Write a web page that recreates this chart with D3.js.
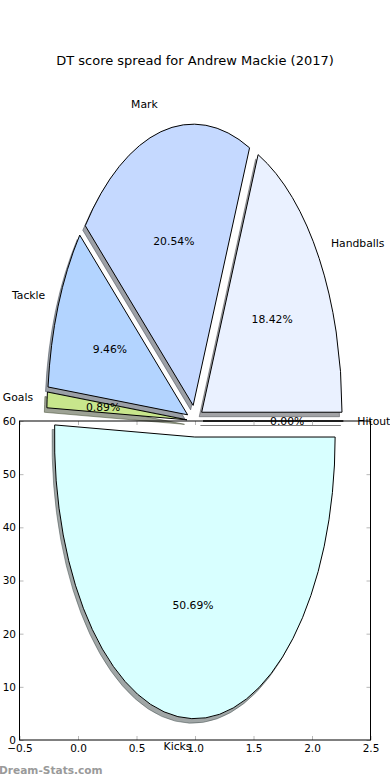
<!DOCTYPE html>
<html>
<head>
<meta charset="utf-8">
<script src="https://cdn.jsdelivr.net/npm/d3@7"></script>
<style>
  html, body { margin: 0; padding: 0; background: #fff; }
  svg { display: block; font-family: "DejaVu Sans", sans-serif; }
</style>
</head>
<body>
<svg id="chart" width="390" height="780"></svg>
<script>
// ---- data ----
const title = "DT score spread for Andrew Mackie (2017)";
const categories = ["Handballs", "Mark", "Tackle", "Goals", "Kicks", "Hitout"];
const values = [18.42, 20.54, 9.46, 0.89, 50.69, 0.00];
const sliceColors = ["#eaf1ff", "#c5d9ff", "#b3d4ff", "#c8e68c", "#d8ffff", "#ffffff"];
const xTickValues = [-0.5, 0.0, 0.5, 1.0, 1.5, 2.0, 2.5];
const yTickValues = [0, 10, 20, 30, 40, 50, 60];
const watermark = "Dream-Stats.com";

// ---- layout ----
const W = 390, H = 780;
const plot = { left: 19.5, right: 370.5, top: 421, bottom: 740 };
const pieC = { x: 195, y: 421 };
const rx = 140.3, ry = 281.2;
const explode = 0.057;
const labelDist = 1.1, pctDist = 0.6;
const shadowOff = { x: -2.5, y: 4.5 };

const svg = d3.select("#chart");

const x = d3.scaleLinear().domain([-0.5, 2.5]).range([plot.left, plot.right]);
const y = d3.scaleLinear().domain([0, 60]).range([plot.bottom, plot.top]);

// pie angles (matplotlib style: start at 3 o'clock, counter-clockwise)
const pie = d3.pie().sort(null).value(d => d).startAngle(0).endAngle(2 * Math.PI);
const arcsData = pie(values).map((d, i) => {
  const t1 = d.startAngle, t2 = d.endAngle, tm = (t1 + t2) / 2;
  return {
    i, t1, t2, tm,
    ox: pieC.x + explode * rx * Math.cos(tm),
    oy: pieC.y - explode * ry * Math.sin(tm)
  };
});
const arc = d3.arc().innerRadius(0).outerRadius(1)
  .startAngle(d => Math.PI / 2 - d.t2)
  .endAngle(d => Math.PI / 2 - d.t1);

const total = d3.sum(values);

// shadows
const gShadow = svg.append("g");
arcsData.forEach(d => {
  const c = d3.rgb(sliceColors[d.i]);
  const sc = d3.rgb(c.r * 0.3, c.g * 0.3, c.b * 0.3);
  gShadow.append("path")
    .attr("d", arc(d))
    .attr("transform", `translate(${d.ox + shadowOff.x},${d.oy + shadowOff.y}) scale(${rx},${ry})`)
    .attr("fill", sc)
    .attr("fill-opacity", 0.5)
    .attr("stroke", sc)
    .attr("stroke-opacity", 0.5)
    .attr("stroke-width", 1)
    .attr("vector-effect", "non-scaling-stroke");
});

// wedges
const gPie = svg.append("g");
arcsData.forEach(d => {
  gPie.append("path")
    .attr("d", arc(d))
    .attr("transform", `translate(${d.ox},${d.oy}) scale(${rx},${ry})`)
    .attr("fill", sliceColors[d.i])
    .attr("stroke", "#000")
    .attr("stroke-width", 1)
    .attr("stroke-linejoin", "miter")
    .attr("vector-effect", "non-scaling-stroke");
});

// axes frame & ticks
const tickColor = "#b8b8b8";
function styleAxis(g) {
  g.attr("font-family", "DejaVu Sans, sans-serif").attr("font-size", 10.5);
  g.select(".domain").remove();
  g.selectAll(".tick line").attr("stroke", tickColor);
  g.selectAll(".tick text").attr("fill", "#000");
}
svg.append("g").attr("transform", `translate(0,${plot.bottom})`)
  .call(d3.axisBottom(x).tickValues(xTickValues).tickSize(-4).tickPadding(4.5).tickFormat(d3.format(".1f")))
  .call(styleAxis);
svg.append("g").attr("transform", `translate(0,${plot.top})`)
  .call(d3.axisTop(x).tickValues(xTickValues).tickSize(-4).tickFormat(""))
  .call(styleAxis);
svg.append("g").attr("transform", `translate(${plot.left},0)`)
  .call(d3.axisLeft(y).tickValues(yTickValues).tickSize(-4).tickPadding(3.5).tickFormat(d3.format("d")))
  .call(styleAxis);
svg.append("g").attr("transform", `translate(${plot.right},0)`)
  .call(d3.axisRight(y).tickValues(yTickValues).tickSize(-4).tickFormat(""))
  .call(styleAxis);

svg.append("rect")
  .attr("x", plot.left).attr("y", plot.top)
  .attr("width", plot.right - plot.left).attr("height", plot.bottom - plot.top)
  .attr("fill", "none").attr("stroke", "#000").attr("stroke-width", 1);

// labels
const gText = svg.append("g").attr("font-size", 10.8).attr("fill", "#000");
arcsData.forEach(d => {
  const c = Math.cos(d.tm), s = Math.sin(d.tm);
  gText.append("text")
    .attr("x", d.ox + labelDist * rx * c)
    .attr("y", d.oy - labelDist * ry * s)
    .attr("text-anchor", c < 0 ? "end" : "start")
    .attr("dominant-baseline", "central")
    .text(categories[d.i]);
  gText.append("text")
    .attr("x", d.ox + pctDist * rx * c)
    .attr("y", d.oy - pctDist * ry * s)
    .attr("text-anchor", "middle")
    .attr("dominant-baseline", "central")
    .text((values[d.i] / total * 100).toFixed(2) + "%");
});

// title
svg.append("text")
  .attr("x", W / 2).attr("y", 65)
  .attr("text-anchor", "middle")
  .attr("font-size", 13)
  .text(title);

// watermark
svg.append("text")
  .attr("x", -1).attr("y", 774)
  .attr("font-size", 10.6)
  .attr("font-weight", "bold")
  .attr("fill", "#9a9a9a")
  .text(watermark);
</script>
</body>
</html>
